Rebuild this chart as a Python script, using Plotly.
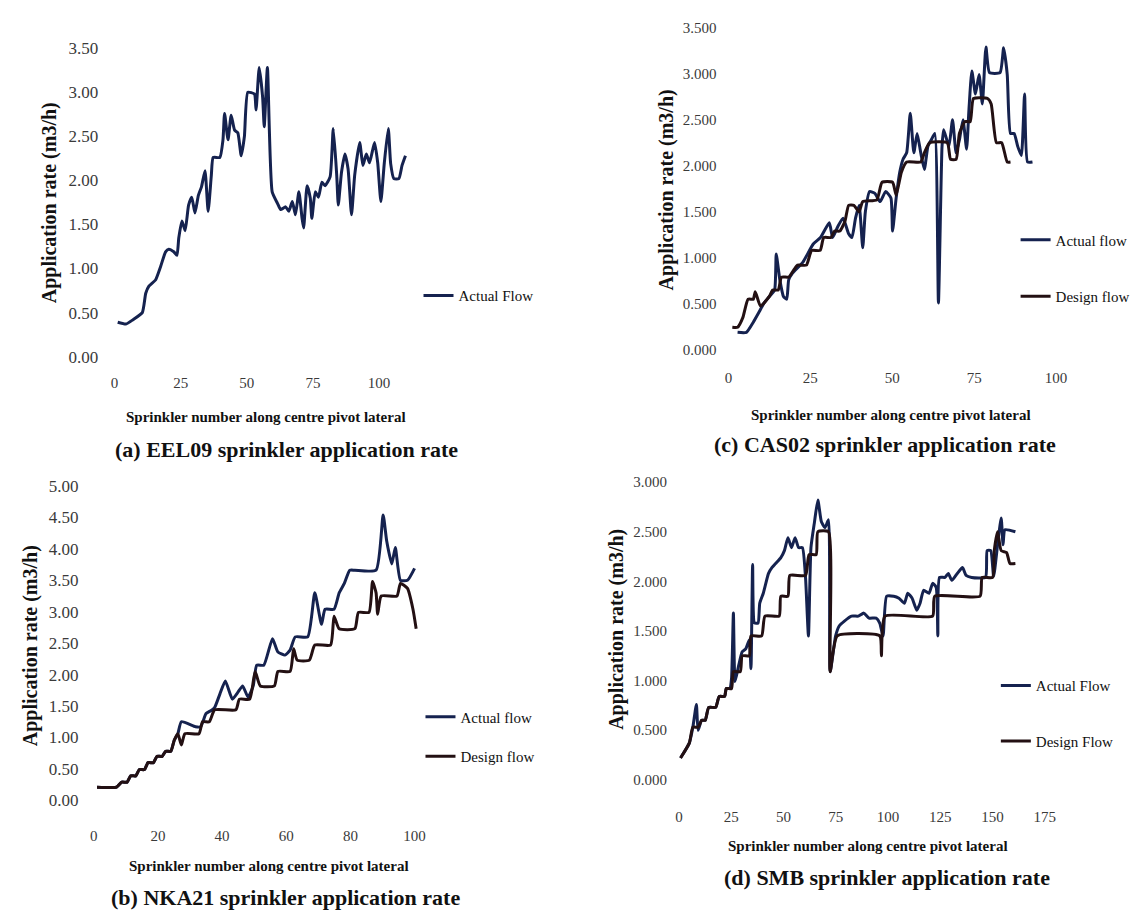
import plotly.graph_objects as go

W, H = 1147, 923

# ---------------- (a) EEL09 ----------------
eel09_x = [1.2, 4.3, 7, 10.5, 11.8, 13, 15.5, 17.4, 19.3, 20.5, 22.4, 23.6, 24.3, 25.5, 26.7, 28,
           29.2, 30.4, 31.7, 32.9, 34.2, 35.4, 36.6, 37.3, 39.8, 41, 41.6, 42.9, 44.1, 45.4, 46.6,
           47.9, 49.1, 50.4, 52.9, 53.5, 54.7, 56, 56.6, 57.8, 59.6, 61.6, 62.8, 64.7, 65.9, 67.2,
           68.4, 69.7, 70.9, 71.5, 72.8, 74, 74.6, 75.9, 77.1, 78.4, 79.6, 81.5, 82.7, 84, 84.6,
           85.8, 87.1, 88.3, 89.6, 90.8, 92.7, 93.9, 95.2, 96.4, 98.3, 99.5, 100.7, 102, 103.5,
           104.4, 105.6, 107.5, 108.7, 110]
eel09_actual = [0.39, 0.37, 0.42, 0.5, 0.72, 0.8, 0.87, 1.02, 1.19, 1.22, 1.19, 1.15, 1.35, 1.54,
                1.43, 1.72, 1.81, 1.63, 1.83, 1.93, 2.11, 1.65, 2.06, 2.26, 2.26, 2.46, 2.76, 2.46,
                2.74, 2.57, 2.54, 2.28, 2.5, 3.0, 2.98, 2.8, 3.28, 2.94, 2.61, 3.28, 1.87, 1.74,
                1.67, 1.7, 1.65, 1.76, 1.61, 1.87, 1.57, 1.46, 1.94, 1.8, 1.57, 1.87, 1.81, 1.98,
                1.94, 2.04, 2.59, 2.06, 1.72, 2.09, 2.3, 2.13, 1.61, 2.06, 2.43, 2.17, 2.3, 2.2,
                2.43, 2.2, 1.76, 2.2, 2.59, 2.19, 2.02, 2.02, 2.17, 2.28]

# ---------------- (b) NKA21 ----------------
nka21_actual_x = [1, 7.1, 8.7, 10.4, 11.5, 13.1, 14.2, 15.8, 16.9, 18.6, 19.7, 21.3, 22.4, 24, 25.1,
                  26.2, 27.3, 31.7, 33.3, 35, 36.6, 37.7, 39.3, 41, 43.2, 44.8, 46.4, 48.1, 49.7,
                  50.8, 53, 55.7, 57.4, 59.6, 61.2, 62.8, 66.7, 68.9, 71, 72.1, 74.9, 76.5, 78.1,
                  79.8, 81.4, 88, 90.2, 91.3, 92.9, 94, 95.6, 97.8, 100]
nka21_actual = [0.21, 0.21, 0.29, 0.29, 0.39, 0.39, 0.49, 0.49, 0.60, 0.60, 0.70, 0.70, 0.78, 0.78,
                0.96, 1.06, 1.25, 1.17, 1.17, 1.38, 1.43, 1.48, 1.69, 1.90, 1.61, 1.71, 1.82, 1.64,
                1.82, 2.15, 2.15, 2.57, 2.36, 2.31, 2.39, 2.60, 2.60, 3.30, 2.80, 3.04, 3.04, 3.30,
                3.45, 3.66, 3.66, 3.66, 4.54, 4.13, 3.76, 4.02, 3.50, 3.50, 3.69]
nka21_design_x = [1, 7.1, 8.7, 10.4, 11.5, 13.1, 14.2, 15.8, 16.9, 18.6, 19.7, 21.3, 22.4, 24, 25.1,
                  26.2, 27.3, 28.4, 32.8, 33.9, 36, 37.7, 44.3, 45.4, 48.6, 50.3, 51.9, 56.3, 57.4,
                  61.2, 62.3, 63.4, 67.2, 68.9, 73.8, 74.9, 76.5, 81.4, 82.5, 85.8, 86.9, 88, 88.5,
                  89.6, 94.5, 95.6, 97.8, 99.5, 100.5]
nka21_design = [0.21, 0.21, 0.29, 0.29, 0.39, 0.39, 0.49, 0.49, 0.60, 0.60, 0.70, 0.70, 0.78, 0.78,
                0.96, 1.06, 0.88, 1.06, 1.06, 1.25, 1.25, 1.44, 1.44, 1.61, 1.61, 2.05, 1.82, 1.82,
                2.05, 2.05, 2.41, 2.23, 2.23, 2.47, 2.47, 2.93, 2.73, 2.73, 2.99, 2.99, 3.48, 3.30,
                2.96, 3.25, 3.25, 3.45, 3.37, 3.04, 2.73]

# ---------------- (c) CAS02 ----------------
cas02_actual_x = [2.8, 5.5, 7.6, 9.2, 10.9, 12.5, 14.1, 14.6, 15.7, 16.8, 17.8, 18.4, 19.5, 22.7,
                  25.9, 28.1, 30.8, 31.8, 33.4, 35, 36.7, 37.7, 38.8, 39.9, 41, 41.8, 43.1, 44.7,
                  46.3, 48, 49.6, 50.1, 51.2, 52.3, 53.3, 54.4, 55.5, 56.6, 57.6, 58.7, 59.8, 60.9,
                  61.9, 63, 64.1, 65.2, 65.7, 67.3, 68.4, 69.5, 70.5, 71.6, 72.7, 73.4, 74.3, 75.4,
                  76.5, 77.5, 78.6, 79.7, 82.9, 84, 85.1, 86.1, 87.2, 88.3, 89.4, 90.4, 91.3, 92.8]
cas02_actual = [0.19, 0.19, 0.30, 0.40, 0.51, 0.58, 0.65, 1.04, 0.76, 0.58, 0.55, 0.76, 0.83, 0.95,
                1.15, 1.22, 1.38, 1.22, 1.34, 1.43, 1.26, 1.22, 1.43, 1.57, 1.11, 1.50, 1.72, 1.70,
                1.61, 1.72, 1.65, 1.29, 1.65, 1.93, 2.07, 2.14, 2.57, 2.14, 2.35, 2.14, 1.96, 2.21,
                2.28, 2.35, 0.51, 2.21, 2.39, 2.21, 2.50, 2.14, 2.28, 2.50, 2.18, 2.60, 3.03, 2.78,
                2.99, 2.67, 3.29, 3.01, 3.01, 3.28, 2.99, 2.35, 2.35, 2.21, 2.11, 2.78, 2.04, 2.04]
cas02_design_x = [1.2, 2.8, 4.4, 6, 7.6, 8.2, 9.8, 12.5, 13.5, 15.2, 16.2, 18.4, 20, 21.1, 23.8,
                  25.4, 28, 29.1, 31.3, 32.4, 34, 35.6, 36.7, 38.3, 39.9, 41, 45.3, 46.9, 50.1,
                  51.2, 52.8, 54.4, 58.7, 59.8, 61.4, 66.8, 67.8, 69.5, 70.5, 72.2, 73.8, 74.8,
                  79.1, 80.2, 81.8, 83.4, 85.1, 86.1]
cas02_design = [0.245, 0.245, 0.35, 0.55, 0.55, 0.63, 0.475, 0.58, 0.65, 0.65, 0.79, 0.79, 0.87,
                0.92, 0.92, 1.08, 1.08, 1.22, 1.22, 1.29, 1.29, 1.40, 1.57, 1.57, 1.50, 1.61, 1.63,
                1.82, 1.82, 1.68, 1.93, 2.04, 2.04, 2.14, 2.25, 2.25, 2.07, 2.07, 2.35, 2.48, 2.48,
                2.73, 2.73, 2.67, 2.25, 2.25, 2.04, 2.04]

# ---------------- (d) SMB ----------------
smb_actual_x = [0.7, 4.9, 6.6, 8.3, 9.1, 10.8, 12.5, 14.2, 17.5, 19.2, 21.8, 22.6, 24.3, 25.1, 26,
                26.8, 28.5, 30.2, 31.9, 33.6, 34.4, 35.2, 36.1, 37.8, 38.6, 40.3, 42.8, 44.5, 46.2,
                48.7, 50.4, 52.1, 53.8, 55.5, 57.2, 59, 60.5, 61.9, 63.1, 64.8, 66.4, 68.1, 69.8,
                71.5, 72.3, 74.9, 76.6, 79.1, 82.5, 85.8, 88.4, 90.9, 94.3, 96, 97.6, 99.3, 102.7,
                105.2, 107.8, 109.4, 111.5, 113.7, 115.3, 117, 119.6, 121.3, 123, 123.8, 124.6,
                127.2, 128.8, 130.5, 133.1, 135.6, 137.3, 140, 146.6, 147.4, 149.1, 150.5, 152.4,
                154.1, 155, 155.9, 160.9]
smb_actual = [0.22, 0.37, 0.53, 0.76, 0.50, 0.60, 0.60, 0.73, 0.73, 0.84, 0.84, 0.92, 0.92, 1.02,
              1.68, 0.99, 1.15, 1.29, 1.32, 1.41, 1.12, 2.17, 1.58, 1.58, 1.78, 1.88, 2.08, 2.14,
              2.18, 2.24, 2.31, 2.44, 2.34, 2.44, 2.34, 2.34, 2.04, 1.45, 2.34, 2.60, 2.82, 2.60,
              2.54, 2.62, 1.09, 1.45, 1.55, 1.60, 1.65, 1.65, 1.68, 1.63, 1.63, 1.58, 1.45, 1.85,
              1.85, 1.83, 1.78, 1.88, 1.83, 1.71, 1.78, 1.91, 1.88, 1.98, 1.94, 1.45, 2.04, 2.04,
              2.08, 2.01, 2.08, 2.14, 2.06, 2.04, 2.04, 2.31, 2.31, 2.05, 2.37, 2.64, 2.37, 2.52,
              2.50]
smb_design_x = [0.7, 4.9, 6.6, 9.1, 10.8, 12.5, 14.2, 17.5, 19.2, 21.8, 22.6, 25.1, 26, 29.3, 30.2,
                33.6, 34.4, 39.5, 41.1, 47.9, 48.7, 52.1, 53, 60.5, 62.2, 65.6, 66.4, 71.5, 72.3,
                75.7, 96, 96.8, 98.5, 121.3, 122.3, 144, 145, 150, 150.8, 152.4, 154.1, 156.7,
                158.3, 160.9]
smb_design = [0.22, 0.37, 0.53, 0.53, 0.60, 0.60, 0.73, 0.73, 0.84, 0.84, 0.92, 0.92, 1.09, 1.09,
              1.25, 1.25, 1.45, 1.45, 1.65, 1.65, 1.85, 1.85, 2.06, 2.06, 2.27, 2.27, 2.50, 2.50,
              1.09, 1.45, 1.45, 1.25, 1.65, 1.65, 1.85, 1.85, 2.04, 2.04, 2.31, 2.50, 2.31, 2.29,
              2.18, 2.18]

SERIF = "Liberation Serif"
ACTUAL_COLOR = "#15224f"
DESIGN_COLOR = "#231013"
LABEL_COLOR = "#3a3a3a"


def fx(p):
    return p / W


def fy(p):
    return 1 - p / H


# pixel geometry of each panel: origin (x0, y0), pixels per unit, ranges
panels = [
    dict(sfx="", xr=(0, 120), x0=112, xs=2.68, yr=(0, 3.5), y0=355, ys=90,
         dx=25, dy=0.5, fmt=".2f", xlen=12, ylen=12, yfont=17),
    dict(sfx="2", xr=(0, 110), x0=91, xs=3.25, yr=(0, 5), y0=808, ys=64.2,
         dx=20, dy=0.5, fmt=".2f", xlen=22, ylen=11, yfont=17),
    dict(sfx="3", xr=(0, 100), x0=734, xs=3.32, yr=(0, 3.5), y0=348, ys=94,
         dx=25, dy=0.5, fmt=".3f", xlen=14, ylen=8, yfont=15),
    dict(sfx="4", xr=(0, 175), x0=684, xs=2.118, yr=(0, 3), y0=787, ys=101.3,
         dx=25, dy=0.5, fmt=".3f", xlen=23, ylen=8, yfont=15),
]

series = [
    [("Actual Flow", eel09_x, eel09_actual, ACTUAL_COLOR)],
    [("Actual flow", nka21_actual_x, nka21_actual, ACTUAL_COLOR),
     ("Design flow", nka21_design_x, nka21_design, DESIGN_COLOR)],
    [("Actual flow", cas02_actual_x, cas02_actual, ACTUAL_COLOR),
     ("Design flow", cas02_design_x, cas02_design, DESIGN_COLOR)],
    [("Actual Flow", smb_actual_x, smb_actual, ACTUAL_COLOR),
     ("Design Flow", smb_design_x, smb_design, DESIGN_COLOR)],
]

fig = go.Figure()
layout = dict(
    width=W, height=H, margin=dict(l=0, r=0, t=0, b=0),
    paper_bgcolor="white", plot_bgcolor="white", showlegend=True,
    font=dict(family=SERIF, color="#111"),
)

for i, (p, group) in enumerate(zip(panels, series)):
    s = p["sfx"]
    legend_name = "legend" + s
    for j, (name, xs, ys, color) in enumerate(group):
        fig.add_trace(go.Scatter(
            x=xs, y=ys, mode="lines", name=name, showlegend=True,
            line=dict(color=color, width=3, shape="spline", smoothing=0.5),
            xaxis="x" + s, yaxis="y" + s,
            legend=legend_name, legendgroup=f"{i}-{j}",
        ))
    x_end = p["x0"] + (p["xr"][1] - p["xr"][0]) * p["xs"]
    y_top = p["y0"] - (p["yr"][1] - p["yr"][0]) * p["ys"]
    layout["xaxis" + s] = dict(
        domain=[fx(p["x0"]), fx(x_end)], range=list(p["xr"]), anchor="y" + s,
        showgrid=False, zeroline=False, showline=False,
        tick0=0, dtick=p["dx"], ticks="outside", ticklen=p["xlen"],
        tickcolor="rgba(0,0,0,0)",
        tickfont=dict(family=SERIF, size=15, color=LABEL_COLOR),
    )
    layout["yaxis" + s] = dict(
        domain=[fy(p["y0"]), fy(y_top)], range=list(p["yr"]), anchor="x" + s,
        showgrid=False, zeroline=False, showline=False,
        tick0=0, dtick=p["dy"], tickformat=p["fmt"], ticks="outside",
        ticklen=p["ylen"], tickcolor="rgba(0,0,0,0)",
        tickfont=dict(family=SERIF, size=p["yfont"], color=LABEL_COLOR),
    )

# legends: (left px, top px, gap between entries)
legend_pos = [(420, 276, 0), (422, 706, 17), (1025, 219, 34), (1005, 674, 33)]
for p, (lx, ly, gap) in zip(panels, legend_pos):
    layout["legend" + p["sfx"]] = dict(
        x=fx(lx), y=fy(ly), xanchor="left", yanchor="top",
        bgcolor="rgba(0,0,0,0)", borderwidth=0, tracegroupgap=gap,
        font=dict(family=SERIF, size=15, color="#111"), itemwidth=30,
    )

ytitle = "Application rate (m3/h)"
xtitle = "Sprinkler number along centre pivot lateral"
captions = [
    "(a) EEL09 sprinkler application rate",
    "(b) NKA21 sprinkler application rate",
    "(c) CAS02 sprinkler application rate",
    "(d) SMB sprinkler application rate",
]
ytitle_pos = [(47, 198), (27, 650), (671, 185), (621, 633)]
xtitle_pos = [(265, 417), (269, 875), (899, 415), (875, 855)]
caption_pos = [(286, 450), (285, 907), (893, 445), (895, 887)]

annotations = []
for (yx, yy), (tx, ty), (cx, cy), cap in zip(ytitle_pos, xtitle_pos, caption_pos, captions):
    annotations.append(dict(
        text=ytitle, x=fx(yx), y=fy(yy), xref="paper", yref="paper",
        textangle=-90, showarrow=False, xanchor="center", yanchor="middle",
        font=dict(family=SERIF, size=20, color="#111", weight="bold"),
    ))
    annotations.append(dict(
        text=xtitle, x=fx(tx), y=fy(ty), xref="paper", yref="paper",
        showarrow=False, xanchor="center", yanchor="middle",
        font=dict(family=SERIF, size=15, color="#111", weight="bold"),
    ))
    annotations.append(dict(
        text=cap, x=fx(cx), y=fy(cy), xref="paper", yref="paper",
        showarrow=False, xanchor="center", yanchor="middle",
        font=dict(family=SERIF, size=22, color="#111", weight="bold"),
    ))
layout["annotations"] = annotations

fig.update_layout(**layout)
fig.write_html("out.html")
